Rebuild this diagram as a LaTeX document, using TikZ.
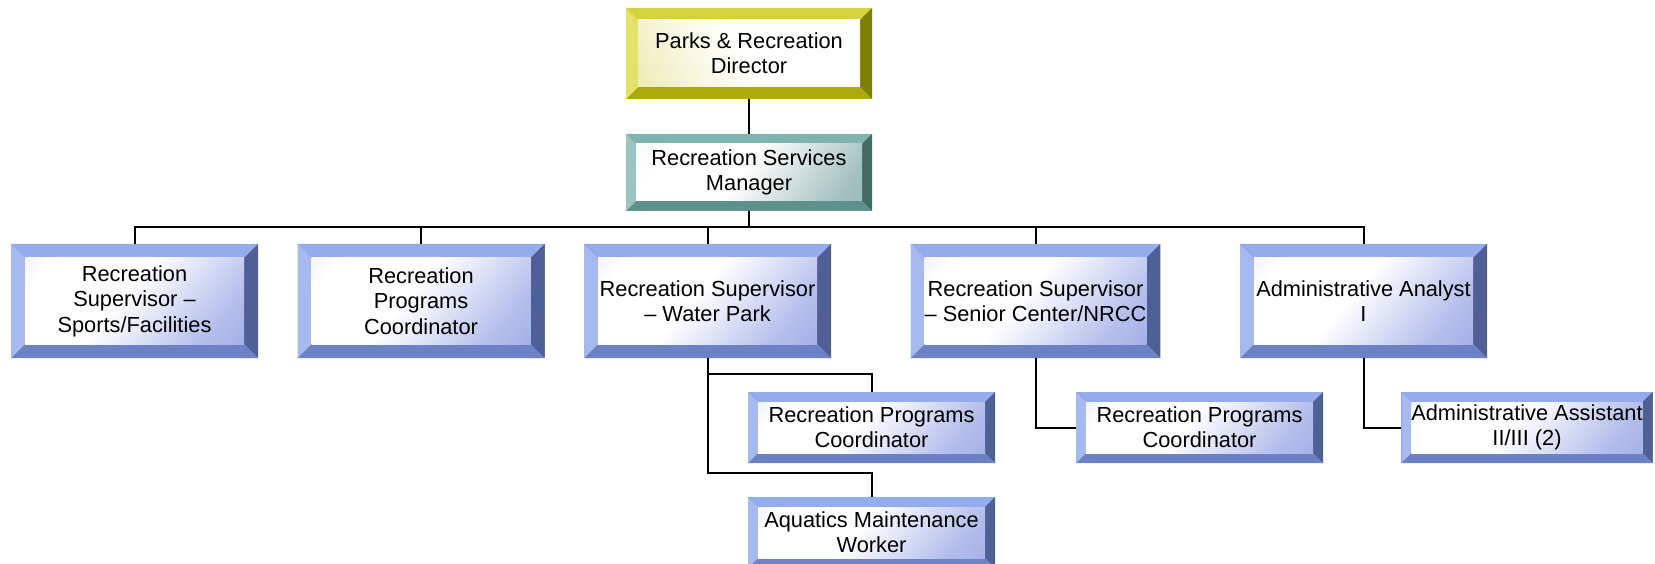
\documentclass[tikz,border=0pt]{standalone}
\usepackage{fontspec}
\setmainfont{Liberation Sans}
\usepackage{tikz}
\usetikzlibrary{backgrounds,calc}
\definecolor{ylwtop}{HTML}{D4D43A}
\definecolor{ylwleft}{HTML}{E2E26C}
\definecolor{ylwright}{HTML}{7E7E00}
\definecolor{ylwbot}{HTML}{AAAA0A}
\definecolor{ylwface}{HTML}{E4E496}
\definecolor{tealtop}{HTML}{80B2AE}
\definecolor{tealleft}{HTML}{9CC4C0}
\definecolor{tealright}{HTML}{426B68}
\definecolor{tealbot}{HTML}{5F918C}
\definecolor{tealface}{HTML}{86ADA9}
\definecolor{blutop}{HTML}{94ACEC}
\definecolor{bluleft}{HTML}{A6BAF0}
\definecolor{bluright}{HTML}{4E6096}
\definecolor{blubot}{HTML}{6C82C4}
\definecolor{bluface}{HTML}{8E9DE2}
\definecolor{blutint}{HTML}{D0D6F5}
\pgfdeclarehorizontalshading{ylwshade}{100bp}{color(0bp)=(ylwface); color(12bp)=(ylwface!80!white); color(35bp)=(ylwface!25!white); color(50bp)=(white); color(100bp)=(white)}
\pgfdeclarehorizontalshading{tealshade}{100bp}{color(0bp)=(tealface!15!white); color(25bp)=(white); color(48bp)=(white); color(78bp)=(tealface!75!white); color(100bp)=(tealface)}
\pgfdeclarehorizontalshading{blushade}{100bp}{color(0bp)=(blutint!80!white); color(22bp)=(white); color(46bp)=(white); color(74bp)=(bluface!65!white); color(100bp)=(bluface)}
\tikzstyle{lnk}=[line width=2pt]
% bevelled frame round a node: #1 node, #2 colour set, #3 bevel
\newcommand{\bevel}[3]{%
 \begin{pgfonlayer}{background}
 \fill[#2bot] (#1.north west) rectangle (#1.south east);
 \fill[#2top] (#1.north west) -- (#1.north east) -- ([shift={(-#3,-#3)}]#1.north east) -- ([shift={(#3,-#3)}]#1.north west) -- cycle;
 \fill[#2right] (#1.north east) -- (#1.south east) -- ([shift={(-#3,#3)}]#1.south east) -- ([shift={(-#3,-#3)}]#1.north east) -- cycle;
 \fill[#2bot] (#1.south east) -- (#1.south west) -- ([shift={(#3,#3)}]#1.south west) -- ([shift={(-#3,#3)}]#1.south east) -- cycle;
 \fill[#2left] (#1.south west) -- (#1.north west) -- ([shift={(#3,-#3)}]#1.north west) -- ([shift={(#3,#3)}]#1.south west) -- cycle;
 \end{pgfonlayer}}

\begin{document}
\begin{tikzpicture}[x=1pt,y=1pt]
\useasboundingbox (0,0) rectangle (1655,-564);
\tikzstyle{box}=[rectangle,inner sep=0pt,align=center,font=\fontsize{21.8}{25.4}\selectfont]
\tikzstyle{dirbox}=[box,minimum width=222pt,minimum height=67pt,outer sep=12pt,shading=ylwshade,shading angle=30]
\tikzstyle{mgrbox}=[box,minimum width=226pt,minimum height=57pt,outer sep=10pt,shading=tealshade,shading angle=-35]
\tikzstyle{supbox}=[box,minimum width=219pt,minimum height=86pt,outer sep=14pt,shading=blushade,shading angle=-40]
\tikzstyle{subbox}=[box,minimum width=227pt,minimum height=51pt,outer sep=10pt,shading=blushade,shading angle=-40]

\node[dirbox] (dir) at (749,-53.5) {Parks \& Recreation\\Director};
\node[mgrbox] (mgr) at (749,-172.5) {Recreation Services\\Manager};

\node[supbox] (sp1) at (134.5,-301) {Recreation\\Supervisor --\\Sports/Facilities};
\node[supbox] (sp2) at (421,-301) {Recreation\\Programs\\Coordinator};
\node[supbox] (sp3) at (707.5,-301) {Recreation Supervisor\\-- Water Park};
\node[supbox] (sp4) at (1035.5,-301) {Recreation Supervisor\\-- Senior Center/NRCC};
\node[supbox] (sp5) at (1363.5,-301) {Administrative Analyst\\I};

\node[subbox] (wp1) at (871.5,-427.5) {Recreation Programs\\Coordinator};
\node[subbox] (wp2) at (871.5,-532.5) {Aquatics Maintenance\\Worker};
\node[subbox] (sc1) at (1199.5,-427.5) {Recreation Programs\\Coordinator};
\node[subbox] (aa1) at (1527,-427.5) {Administrative Assistant\\II/III (2)};

\bevel{dir}{ylw}{12}
\bevel{mgr}{teal}{10}
\foreach \n in {sp1,sp2,sp3,sp4,sp5} {\bevel{\n}{blu}{14}}
\foreach \n in {wp1,wp2,sc1,aa1} {\bevel{\n}{blu}{10}}

\draw[lnk] (dir) -- (mgr);
\foreach \n in {sp1,sp2,sp3,sp4,sp5}
  \draw[lnk] (mgr.south) |- ([yshift=17pt]\n.north) -- (\n.north);
\draw[lnk] (sp3.south) |- ([yshift=18pt]wp1.north) -- (wp1.north);
\draw[lnk] (sp3.south) |- ([yshift=24pt]wp2.north) -- (wp2.north);
\draw[lnk] (sp4.south) |- (sc1.west);
\draw[lnk] (sp5.south) |- (aa1.west);
\end{tikzpicture}
\end{document}
